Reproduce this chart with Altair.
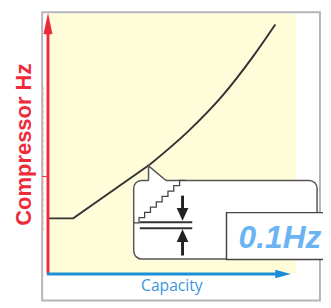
import altair as alt
import pandas as pd

# ---- data (Capacity in % of arrow length, Hz in % of arrow height) ----
capacity = [0, 10.4, 41.8, 57.8, 71.5, 84.7, 93.6]
hz = [21.3, 21.3, 41.8, 54.7, 67.9, 83.6, 95.5]

# staircase icon inside the callout
stair_x = [35.3, 37.5, 37.5, 39.8, 39.8, 42.2, 42.2, 44.6, 44.6, 47.0, 47.0, 49.4, 49.4, 51.8, 51.8, 54.2, 54.2, 56.6]
stair_y = [19.6, 19.6, 21.6, 21.6, 23.6, 23.6, 25.6, 25.6, 27.6, 27.6, 29.7, 29.7, 31.7, 31.7, 33.8, 33.8, 35.8, 35.8]

RED = "#ee2b3b"
BLUE = "#1b8ed6"
DARK = "#333333"

xs = alt.Scale(domain=[0, 102.0], nice=False, zero=False)
ys = alt.Scale(domain=[0, 99.63], nice=False, zero=False)


def X(f="x"):
    return alt.X(f"{f}:Q", scale=xs, axis=None)


def Y(f="y"):
    return alt.Y(f"{f}:Q", scale=ys, axis=None)


# outer frame
frame = alt.Chart(pd.DataFrame({"x": [-2.4], "x2": [112.0], "y": [-10.1], "y2": [100.2]})).mark_rect(
    fill=None, stroke="#b5b5b5", strokeWidth=2
).encode(x=X(), x2="x2:Q", y=Y(), y2="y2:Q")

pink = alt.Chart(pd.DataFrame({"x": [-2.0], "y": [16.8], "y2": [72.4]})).mark_rule(
    color="#f3a3aa", strokeDash=[3, 3], strokeWidth=1
).encode(x=X(), y=Y(), y2="y2:Q")

tick = alt.Chart(pd.DataFrame({"x": [-2.4], "x2": [-0.3], "y": [37.3]})).mark_rule(
    color=RED, strokeWidth=1
).encode(x=X(), x2="x2:Q", y=Y())

# flat start + straight rise (linear), then the smooth curved upper part (monotone)
straight = alt.Chart(pd.DataFrame({"x": capacity[:3], "y": hz[:3]})).mark_line(
    color=DARK, strokeWidth=2
).encode(x=X(), y=Y())
curve = alt.Chart(pd.DataFrame({"x": capacity[2:], "y": hz[2:]})).mark_line(
    color=DARK, strokeWidth=2, interpolate="monotone"
).encode(x=X(), y=Y())

# axes arrows
yline = alt.Chart(pd.DataFrame({"x": [0], "y": [0], "y2": [94]})).mark_rule(
    color=RED, strokeWidth=3
).encode(x=X(), y=Y(), y2="y2:Q")
yhead = alt.Chart(pd.DataFrame({"x": [0], "y": [95.9]})).mark_point(
    shape="M0,-1L0.42,1L-0.42,1Z", size=484, filled=True, fill=RED, opacity=1, strokeWidth=0
).encode(x=X(), y=Y())

xline = alt.Chart(pd.DataFrame({"x": [-0.4], "x2": [94], "y": [0]})).mark_rule(
    color=BLUE, strokeWidth=3
).encode(x=X(), x2="x2:Q", y=Y())
xhead = alt.Chart(pd.DataFrame({"x": [96.8], "y": [0]})).mark_point(
    shape="M1,0L-1,-0.55L-1,0.55Z", size=256, filled=True, fill=BLUE, opacity=1, strokeWidth=0
).encode(x=X(), y=Y())

ylabel = alt.Chart(pd.DataFrame({"x": [-9.6], "y": [49.5], "t": ["Compressor Hz"]})).mark_text(
    angle=270, align="center", baseline="middle", font="Liberation Sans", fontWeight="bold",
    fontSize=22.5, color=RED
).encode(x=X(), y=Y(), text="t:N")

xlabel = alt.Chart(pd.DataFrame({"x": [51.0], "y": [-6.5], "t": ["Capacity"]})).mark_text(
    align="center", baseline="alphabetic", font="Open Sans", fontSize=16, color="#3b95de"
).encode(x=X(), y=Y(), text="t:N")

# callout box
box = alt.Chart(pd.DataFrame({"x": [35.3], "x2": [110.8], "y": [5.8], "y2": [35.8]})).mark_rect(
    fill="white", stroke="#555555", strokeWidth=1.5, cornerRadius=8
).encode(x=X(), x2="x2:Q", y=Y(), y2="y2:Q")

pointer_fill = alt.Chart(pd.DataFrame({"x": [41.4, 48.6], "y": [41.4, 35.8], "y2": [35.1, 35.1]})).mark_area(
    color="white", opacity=1
).encode(x=X(), y=Y(), y2="y2:Q")

pointer_line = alt.Chart(pd.DataFrame({"x": [41.4, 41.4, 48.6], "y": [35.8, 41.4, 35.8], "o": [0, 1, 2]})).mark_line(
    color="#555555", strokeWidth=1.5
).encode(x=X(), y=Y(), order="o:Q")

stairs = alt.Chart(pd.DataFrame({"x": stair_x, "y": stair_y, "o": list(range(len(stair_x)))})).mark_line(
    color="#444444", strokeWidth=1.3, interpolate="linear"
).encode(x=X(), y=Y(), order="o:Q")

bars = alt.Chart(pd.DataFrame({"x": [37.8, 37.8], "x2": [59.4, 59.4], "y": [19.8, 17.5]})).mark_rule(
    color=DARK, strokeWidth=2
).encode(x=X(), x2="x2:Q", y=Y())

shafts = alt.Chart(pd.DataFrame({"x": [55.4, 55.4], "y": [30.0, 7.1], "y2": [24.5, 13.5]})).mark_rule(
    color="#222222", strokeWidth=3
).encode(x=X(), y=Y(), y2="y2:Q")

heads = alt.Chart(pd.DataFrame({"x": [55.4, 55.4], "y": [22.8, 14.7],
                                "s": ["M0,1L-0.92,-1L0.92,-1Z", "M0,-1L-0.92,1L0.92,1Z"]})).mark_point(
    size=169, filled=True, opacity=1, fill="#222222", strokeWidth=0
).encode(x=X(), y=Y(), shape=alt.Shape("s:N", scale=None))

hzbox = alt.Chart(pd.DataFrame({"x": [73.5], "x2": [116.0], "y": [5.6], "y2": [23.5]})).mark_rect(
    fill="white", stroke="#444444", strokeWidth=1.5
).encode(x=X(), x2="x2:Q", y=Y(), y2="y2:Q")

hztext = alt.Chart(pd.DataFrame({"x": [78.5], "y": [10.0], "t": ["0.1Hz"]})).mark_text(
    align="left", baseline="alphabetic", font="Liberation Sans", fontWeight="bold",
    fontStyle="italic", fontSize=32.5, color="#6ab4f4"
).encode(x=X(), y=Y(), text="t:N")

chart = alt.layer(
    frame, pink, tick, straight, curve, yline, yhead, xline, xhead, ylabel, xlabel,
    box, pointer_fill, pointer_line, stairs, bars, shafts, heads, hzbox, hztext
).properties(
    width=254, height=267,
    autosize=alt.AutoSizeParams(type="none"),
    padding={"left": 41, "top": 2, "right": 28, "bottom": 31},
).configure_view(stroke=None, fill="#fffcd9")

chart.save("out.html", embed_options={"renderer": "svg", "actions": False})
